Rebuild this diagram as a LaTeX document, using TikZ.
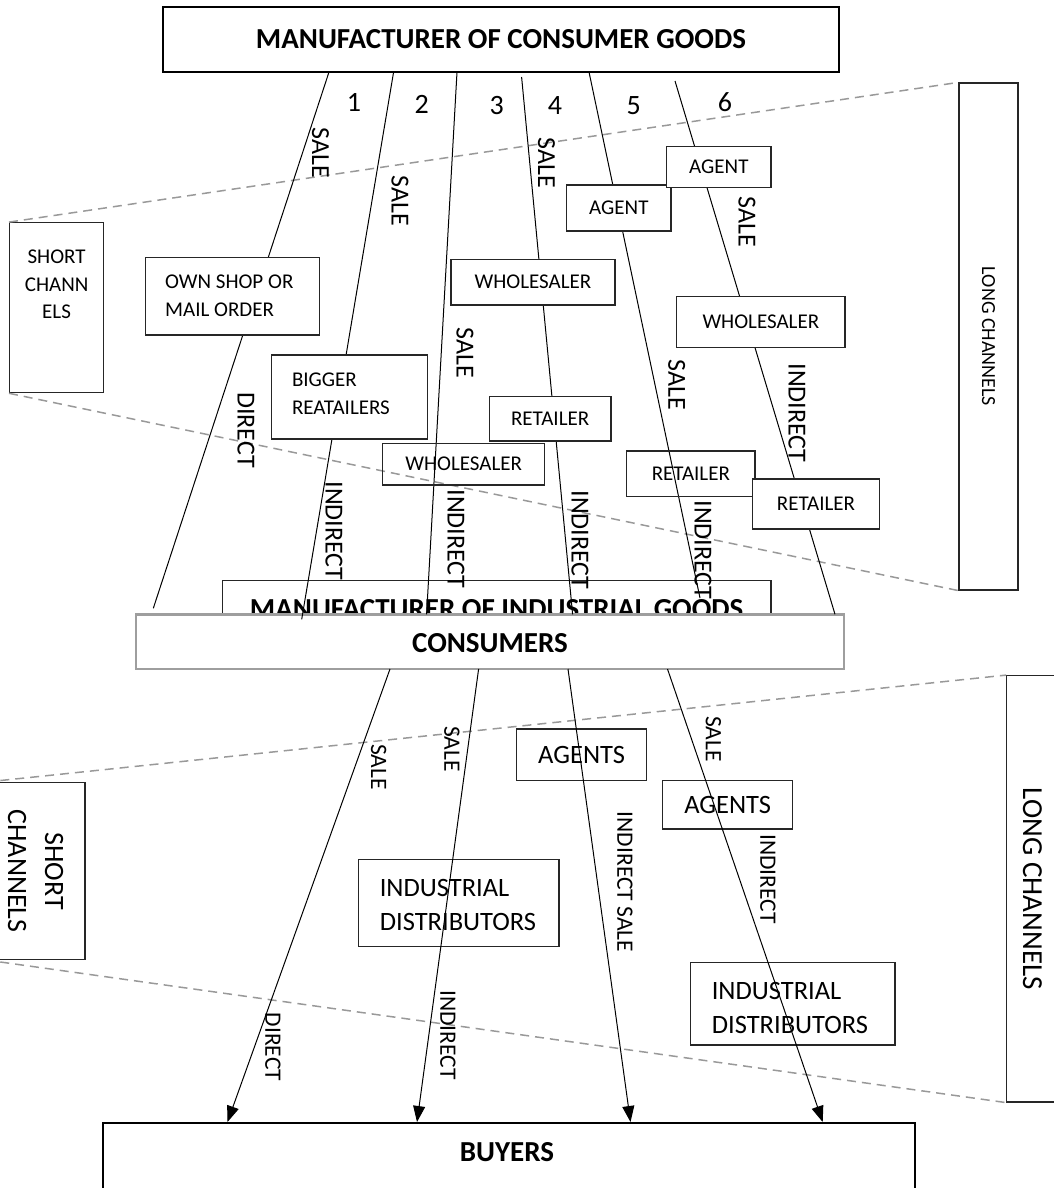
\documentclass[tikz,border=0pt]{standalone}
\usepackage{fontspec}
\setmainfont{Carlito}
\usetikzlibrary{fit,arrows.meta}

\begin{document}
\begin{tikzpicture}[x=1pt,y=-1pt,
  box/.style={draw=black!85, line width=1.2pt, inner sep=0pt},
  wbox/.style={box, fill=white},
  titlefont/.style={font=\bfseries\fontsize{29}{34}\selectfont},
  boxfont/.style={font=\fontsize{21}{27.6}\selectfont},
  bigfont/.style={font=\fontsize{26.5}{34}\selectfont},
  txt/.style={inner sep=0pt},
  lab/.style={inner sep=0pt, rotate=-90, font=\fontsize{26}{30}\selectfont},
  labsmall/.style={inner sep=0pt, rotate=-90, font=\fontsize{23.5}{28}\selectfont},
  numlab/.style={inner sep=0pt, font=\fontsize{28}{32}\selectfont},
  chan/.style={line width=1pt, draw=black},
  flow/.style={line width=1pt, draw=black, -{Triangle[length=16pt,width=12pt]}},
  guide/.style={draw=black!40, line width=1.5pt, dash pattern=on 9pt off 6pt}
]
\useasboundingbox (0,0) rectangle (1053,1188);

% ---------- side boxes and guide lines ----------
\node[box, fit={(9.6,222.7) (103.6,392.7)}] (shortA) {};
\node[txt, boxfont, align=center] (shortAtxt) at (56.6,284.5) {SHORT\\CHANN\\ELS};
\node[box, fit={(959,83) (1018,590)}] (longA) {};
\node[txt, rotate=-90, font=\fontsize{20}{24}\selectfont] (longAtxt) at (longA.center) {LONG CHANNELS};
\draw[guide] (shortA.north west) -- (longA.north west);
\draw[guide] (shortA.south west) -- (longA.south west);

\node[box, fit={(-14,782.7) (85,959.3)}] (shortB) {};
\node[txt, rotate=-90, align=center, font=\fontsize{28}{37}\selectfont] (shortBtxt) at (shortB.center) {SHORT\\CHANNELS};
\node[box, fit={(1006.7,675.7) (1058,1102)}] (longB) {};
\node[txt, rotate=-90, font=\fontsize{29}{34}\selectfont] (longBtxt) at (longB.center) {LONG CHANNELS};
\draw[guide] (shortB.north west) -- (longB.north west);
\draw[guide] (shortB.south west) -- (longB.south west);

% ---------- main bars ----------
\node[box, line width=2.5pt, draw=black, fit={(163,7) (839,72)}] (maker) {};
\node[txt, titlefont] (makertxt) at (maker.center) {MANUFACTURER OF CONSUMER GOODS};
\node[box, fit={(222.3,580.7) (771,650)}] (industrial) {};
\node[txt, titlefont] (industrialtxt) at (496.7,609.5) {MANUFACTURER OF INDUSTRIAL GOODS};
\node[box, draw=black!38, line width=2.5pt, fill=white, fit={(136.2,614.3) (843.9,669)}] (consumers) {};
\node[txt, titlefont] (consumerstxt) at (490,643.5) {CONSUMERS};
\node[box, line width=1.8pt, draw=black, fit={(102.9,1122.7) (914.8,1200)}] (buyers) {};
\node[txt, titlefont] (buyerstxt) at (507,1152) {BUYERS};

% ---------- channel numbers ----------
\node[numlab] (n1) at (354,102.5) {1};
\node[numlab] (n2) at (421.7,104) {2};
\node[numlab] (n3) at (496.7,106) {3};
\node[numlab] (n4) at (555,106) {4};
\node[numlab] (n5) at (633.7,106) {5};
\node[numlab] (n6) at (725,102) {6};

% ---------- consumer goods channels ----------
\coordinate (c1a) at (329,72);    \coordinate (c1b) at (153.3,608.3);
\coordinate (c2a) at (393.6,72);  \coordinate (c2b) at (301.7,619.3);
\coordinate (c3a) at (457,72);    \coordinate (c3b) at (426.6,614.3);
\coordinate (c4a) at (521.6,77);  \coordinate (c4b) at (572.6,614.3);
\coordinate (c5a) at (589,72);    \coordinate (c5b) at (700,598);
\coordinate (c6a) at (675,81);    \coordinate (c6b) at (835,614.3);
\draw[chan] (c1a) -- (c1b);
\draw[chan] (c2a) -- (c2b);
\draw[chan] (c3a) -- (c3b);
\draw[chan] (c4a) -- (c4b);
\draw[chan] (c5a) -- (c5b);
\draw[chan] (c6a) -- (c6b);

% intermediaries (filled ones hide the channel line behind them)
\node[wbox, fit={(145.4,257.3) (319.6,335)}] (ownshop) {};
\node[txt, boxfont, align=left, anchor=west] (ownshoptxt) at (165,295.5) {OWN SHOP OR\\MAIL ORDER};
\node[wbox, fit={(271.4,355) (427.5,439)}] (bigger) {};
\node[txt, boxfont, align=left, anchor=west] (biggertxt) at (291.8,393.7) {BIGGER\\REATAILERS};
\node[box, fit={(382.8,443.3) (544.7,485)}] (whole3) {};
\node[txt, boxfont] (whole3txt) at (whole3.center) {WHOLESALER};
\node[wbox, fit={(451,259.3) (615,305)}] (whole4) {};
\node[txt, boxfont] (whole4txt) at (whole4.center) {WHOLESALER};
\node[wbox, fit={(489.3,396.7) (611,441)}] (ret4) {};
\node[txt, boxfont] (ret4txt) at (ret4.center) {RETAILER};
\node[wbox, fit={(566.7,185) (671,231)}] (agent5) {};
\node[txt, boxfont] (agent5txt) at (agent5.center) {AGENT};
\node[box, fit={(626.7,451) (755,496.7)}] (ret5) {};
\node[txt, boxfont] (ret5txt) at (ret5.center) {RETAILER};
\node[wbox, fit={(666.7,146.7) (771,187.3)}] (agent6) {};
\node[txt, boxfont] (agent6txt) at (agent6.center) {AGENT};
\node[wbox, fit={(676.7,296.7) (845,347.3)}] (whole6) {};
\node[txt, boxfont] (whole6txt) at (whole6.center) {WHOLESALER};
\node[wbox, fit={(752.7,479) (879.3,529)}] (ret6) {};
\node[txt, boxfont] (ret6txt) at (ret6.center) {RETAILER};

% channel labels
\node[lab] (sale1) at (320.5,153) {SALE};
\node[lab] (sale2) at (400,201) {SALE};
\node[lab] (sale3) at (465,352.5) {SALE};
\node[lab] (sale4) at (546.5,163) {SALE};
\node[lab] (sale5) at (676.7,385) {SALE};
\node[lab] (sale6) at (747,222) {SALE};
\node[lab] (direct1) at (246,430) {DIRECT};
\node[lab] (ind2) at (334,531) {INDIRECT};
\node[lab] (ind3) at (456,539) {INDIRECT};
\node[lab] (ind4) at (580,540) {INDIRECT};
\node[lab] (ind5) at (703,550) {INDIRECT};
\node[lab] (ind6) at (797,413) {INDIRECT};

% ---------- industrial goods channels ----------
\node[box, fit={(516.6,729) (646.7,780.7)}] (agents1) {};
\node[txt, bigfont] (agents1txt) at (agents1.center) {AGENTS};
\node[box, fit={(662.6,780.7) (792.8,829)}] (agents2) {};
\node[txt, bigfont] (agents2txt) at (agents2.center) {AGENTS};
\node[box, fit={(358.6,859.3) (559,946.7)}] (dist1) {};
\node[txt, bigfont, align=left, anchor=west] (dist1txt) at (379.6,904.7) {INDUSTRIAL\\DISTRIBUTORS};
\node[box, fit={(690.8,962.7) (895,1045)}] (dist2) {};
\node[txt, bigfont, align=left, anchor=west] (dist2txt) at (711.6,1007.9) {INDUSTRIAL\\DISTRIBUTORS};

\coordinate (d1a) at (390,669);   \coordinate (d1b) at (227.5,1122);
\coordinate (d2a) at (478.6,669); \coordinate (d2b) at (417,1122);
\coordinate (d3a) at (568,669);   \coordinate (d3b) at (630.5,1122);
\coordinate (d4a) at (667.5,669); \coordinate (d4b) at (822.7,1122);
\draw[flow] (d1a) -- (d1b);
\draw[flow] (d2a) -- (d2b);
\draw[flow] (d3a) -- (d3b);
\draw[flow] (d4a) -- (d4b);

\node[labsmall] (lsale1) at (378.6,767) {SALE};
\node[labsmall] (ldirect1) at (273,1047) {DIRECT};
\node[labsmall] (lsale2) at (452,749) {SALE};
\node[labsmall] (lind2) at (448,1035) {INDIRECT};
\node[labsmall] (lindsale3) at (625,882) {INDIRECT SALE};
\node[labsmall] (lsale4) at (713.4,739) {SALE};
\node[labsmall] (lind4) at (768,879) {INDIRECT};
\end{tikzpicture}
\end{document}
